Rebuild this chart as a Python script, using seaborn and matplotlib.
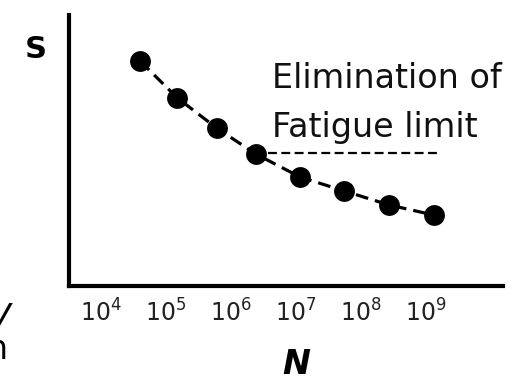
"""S-N curve sketch: elimination of the fatigue limit."""

import math

import matplotlib

matplotlib.use("Agg")
import matplotlib.pyplot as plt
import pandas as pd
import seaborn as sns
from matplotlib.ticker import FixedLocator, FuncFormatter, NullLocator

sns.set_theme(style="white")
plt.rcParams["font.family"] = ["DejaVu Sans"]
plt.rcParams["mathtext.fontset"] = "dejavusans"
plt.rcParams["text.color"] = "black"

# cycles to failure and (arbitrary) stress amplitude
CYCLES = [4.0e4, 1.5e5, 6.0e5, 2.4e6, 1.15e7, 5.5e7, 2.7e8, 1.3e9]
STRESS = [225, 188, 158, 132, 109, 95, 81, 71]
TICK_EXPONENTS = [4, 5, 6, 7, 8, 9]
LIMIT_CYCLES = [3.7e6, 1.5e9]
LIMIT_STRESS = [133, 133]


def power_label(value, _pos):
    return rf"$10^{{{int(round(math.log10(value)))}}}$"


def main() -> None:
    df = pd.DataFrame({"N": CYCLES, "S": STRESS})

    fig = plt.figure(figsize=(5.17, 3.79), dpi=100)
    ax = fig.add_axes([69 / 517, 1 - 286 / 379, (503 - 69) / 517, (286 - 15) / 379])

    sns.lineplot(
        data=df, x="N", y="S", ax=ax, color="black", linestyle="--",
        linewidth=2.3, marker="o", markersize=15, markeredgewidth=0,
    )
    ax.lines[-1].set_dashes((4, 2.2))
    ax.plot(LIMIT_CYCLES, LIMIT_STRESS, color="black", linewidth=1.6, dashes=(4, 2))

    ax.set_xscale("log")
    ax.set_xlim(10 ** 3.51, 10 ** 10.18)
    ax.set_ylim(0, 271)

    ax.xaxis.set_major_locator(FixedLocator([10.0 ** e for e in TICK_EXPONENTS]))
    ax.xaxis.set_minor_locator(NullLocator())
    ax.xaxis.set_major_formatter(FuncFormatter(power_label))
    ax.tick_params(axis="x", direction="in", length=7, width=1.2, color="#333333",
                   labelsize=17, pad=10, labelcolor="#222222")
    ax.set_yticks([])
    ax.set_xlabel("")
    ax.set_ylabel("")

    for side in ("top", "right"):
        ax.spines[side].set_visible(False)
    for side in ("left", "bottom"):
        ax.spines[side].set_linewidth(3)
        ax.spines[side].set_color("black")

    ax.text(10 ** 6.63, 198, "Elimination of", fontsize=24, color="#111111", ha="left", va="baseline")
    ax.text(10 ** 6.63, 149, "Fatigue limit", fontsize=24, color="#111111", ha="left", va="baseline")

    fig.text(36 / 517, 1 - 50 / 379, "S", fontsize=22, fontweight="bold", ha="center", va="center")
    fig.text(296 / 517, 1 - 348 / 379, "N", fontsize=24, fontweight="bold", fontstyle="italic",
             ha="center", va="top")
    # letters of a neighbouring panel, cut off by the left edge as in the source
    fig.text(10 / 517, 1 - 318 / 379, "V", fontsize=24, fontstyle="italic", ha="right", va="center")
    fig.text(8 / 517, 1 - 333 / 379, "n", fontsize=24, ha="right", va="top")

    fig.savefig("out.png", dpi=100)
    plt.close(fig)


if __name__ == "__main__":
    main()
